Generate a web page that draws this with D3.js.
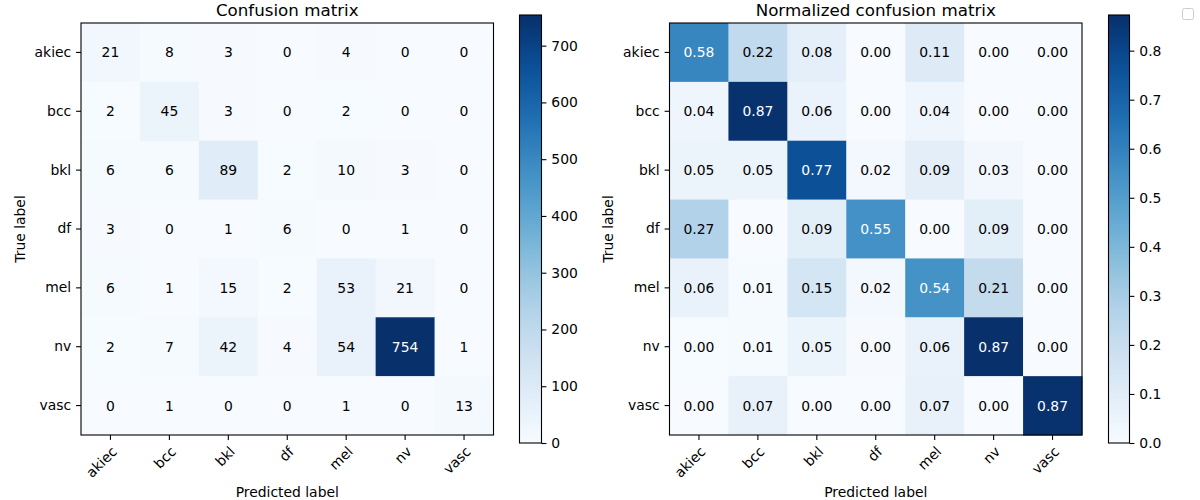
<!DOCTYPE html>
<html><head><meta charset="utf-8">
<script src="https://cdn.jsdelivr.net/npm/d3@7"></script>
<style>body{margin:0;background:#fff}svg{font-family:"DejaVu Sans",sans-serif}</style>
</head><body><svg id="c" width="1200" height="500"></svg>
<script>
const classes = ["akiec","bcc","bkl","df","mel","nv","vasc"];
const counts = [
  [21,8,3,0,4,0,0],
  [2,45,3,0,2,0,0],
  [6,6,89,2,10,3,0],
  [3,0,1,6,0,1,0],
  [6,1,15,2,53,21,0],
  [2,7,42,4,54,754,1],
  [0,1,0,0,1,0,13]
];
const normalized = [
  [0.5833,0.2222,0.0833,0,0.1111,0,0],
  [0.0385,0.8654,0.0577,0,0.0385,0,0],
  [0.0517,0.0517,0.7672,0.0172,0.0862,0.0259,0],
  [0.2727,0,0.0909,0.5455,0,0.0909,0],
  [0.0612,0.0102,0.1531,0.0204,0.5408,0.2143,0],
  [0.0023,0.0081,0.0486,0.0046,0.0625,0.8727,0.0012],
  [0,0.0667,0,0,0.0667,0,0.8667]
];
const countTicks = [0,100,200,300,400,500,600,700];
const normTicks = [0,0.1,0.2,0.3,0.4,0.5,0.6,0.7,0.8];

const svg = d3.select("#c");
const defs = svg.append("defs");

function panel(cfg){
  const {x0,x1,y0,y1,data,fmt,title,cbx,cbw,ticks,tfmt,ylabX,gid} = cfg;
  const vmax = d3.max(data.flat()), vmin = 0;
  const color = v => d3.interpolateBlues((v - vmin)/(vmax - vmin));
  const xs = d3.scaleBand().domain(classes).range([x0,x1]);
  const ys = d3.scaleBand().domain(classes).range([y0,y1]);
  const g = svg.append("g");
  data.forEach((row,i)=>row.forEach((v,j)=>{
    g.append("rect").attr("x",xs(classes[j])).attr("y",ys(classes[i]))
      .attr("width",xs.bandwidth()+0.5).attr("height",ys.bandwidth()+0.5)
      .attr("fill",color(v));
  }));
  data.forEach((row,i)=>row.forEach((v,j)=>{
    g.append("text").attr("x",xs(classes[j])+xs.bandwidth()/2)
      .attr("y",ys(classes[i])+ys.bandwidth()/2).attr("dy","0.36em")
      .attr("text-anchor","middle").attr("font-size",13.9)
      .attr("fill", v > vmax/2 ? "#fff" : "#000").text(fmt(v));
  }));
  g.append("rect").attr("x",x0).attr("y",y0).attr("width",x1-x0).attr("height",y1-y0)
    .attr("fill","none").attr("stroke","#000").attr("stroke-width",1.1);
  // y axis
  const ya = svg.append("g").attr("transform",`translate(${x0},0)`)
    .call(d3.axisLeft(ys).tickSize(4.9).tickPadding(4.9));
  ya.select(".domain").remove();
  ya.selectAll("text").attr("font-size",13.9).attr("fill","#000").attr("font-family","DejaVu Sans");
  ya.selectAll("line").attr("stroke","#000").attr("stroke-width",1.1);
  // x axis
  const xa = svg.append("g").attr("transform",`translate(0,${y1})`)
    .call(d3.axisBottom(xs).tickSize(4.9).tickPadding(4.9));
  xa.select(".domain").remove();
  xa.selectAll("line").attr("stroke","#000").attr("stroke-width",1.1);
  xa.selectAll("text").attr("font-size",13.9).attr("fill","#000").attr("font-family","DejaVu Sans")
    .attr("text-anchor","end").attr("dy","0").attr("y",0)
    .attr("transform","translate(7.5,17.5) rotate(-45)");
  // title
  svg.append("text").attr("x",(x0+x1)/2).attr("y",y0-7).attr("text-anchor","middle")
    .attr("font-size",16.7).text(title);
  svg.append("text").attr("x",(x0+x1)/2).attr("y",497).attr("text-anchor","middle")
    .attr("font-size",13.9).text("Predicted label");
  svg.append("text").attr("transform",`translate(${ylabX},${(y0+y1)/2}) rotate(-90)`)
    .attr("text-anchor","middle").attr("font-size",13.9).text("True label");
  // colorbar
  const cby0 = 15, cby1 = 443;
  const grad = defs.append("linearGradient").attr("id",gid)
    .attr("x1",0).attr("x2",0).attr("y1",1).attr("y2",0);
  d3.range(0,1.0001,0.05).forEach(t=>grad.append("stop").attr("offset",t).attr("stop-color",d3.interpolateBlues(t)));
  svg.append("rect").attr("x",cbx).attr("y",cby0).attr("width",cbw).attr("height",cby1-cby0)
    .attr("fill",`url(#${gid})`).attr("stroke","#000").attr("stroke-width",1.1);
  const cs = d3.scaleLinear().domain([vmin,vmax]).range([cby1,cby0]);
  const ca = svg.append("g").attr("transform",`translate(${cbx+cbw},0)`)
    .call(d3.axisRight(cs).tickValues(ticks).tickFormat(tfmt).tickSize(4.9).tickPadding(4.9));
  ca.select(".domain").remove();
  ca.selectAll("line").attr("stroke","#000").attr("stroke-width",1.1);
  ca.selectAll("text").attr("font-size",13.9).attr("fill","#000").attr("font-family","DejaVu Sans");
}

panel({x0:81,x1:493.5,y0:23,y1:435,data:counts,fmt:v=>String(v),title:"Confusion matrix",
  cbx:519.5,cbw:22,ticks:countTicks,tfmt:d3.format("d"),ylabX:25,gid:"g1"});
panel({x0:669.5,x1:1082,y0:23,y1:435,data:normalized,fmt:d3.format(".2f"),title:"Normalized confusion matrix",
  cbx:1108.5,cbw:21,ticks:normTicks,tfmt:d3.format(".1f"),ylabX:613,gid:"g2"});

// empty legend box
svg.append("rect").attr("x",1182.5).attr("y",8.5).attr("width",11).attr("height",11)
  .attr("rx",2).attr("fill","#fff").attr("stroke","#ccc").attr("stroke-width",1);
</script></body></html>
